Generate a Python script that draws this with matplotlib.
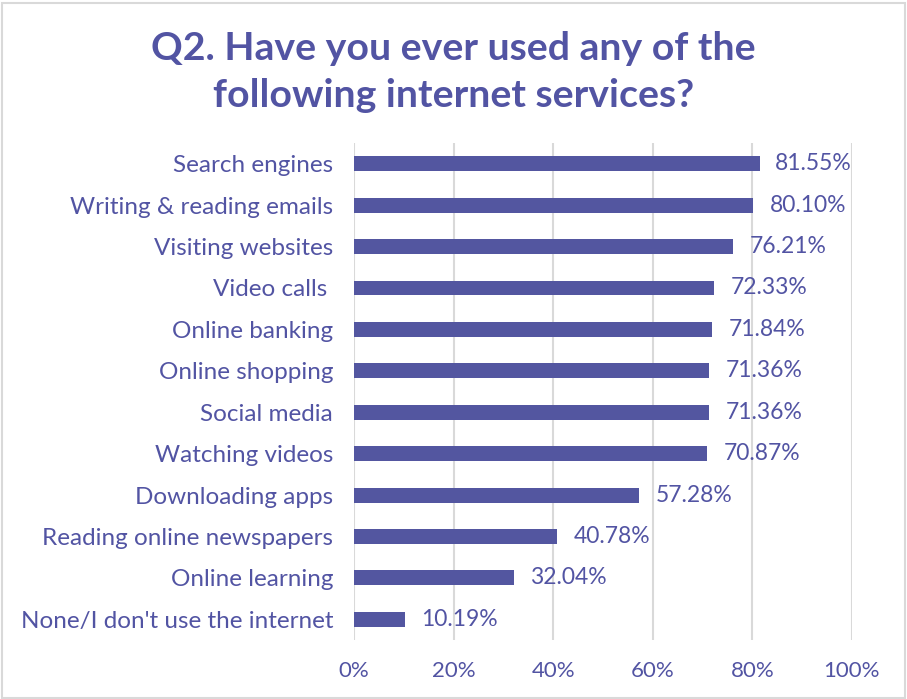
import matplotlib.pyplot as plt
from matplotlib.patches import Rectangle
from matplotlib.ticker import FuncFormatter

services = [
    "Search engines",
    "Writing & reading emails",
    "Visiting websites",
    "Video calls ",
    "Online banking",
    "Online shopping",
    "Social media",
    "Watching videos",
    "Downloading apps",
    "Reading online newspapers",
    "Online learning",
    "None/I don't use the internet",
]
share = [81.55, 80.10, 76.21, 72.33, 71.84, 71.36, 71.36, 70.87, 57.28, 40.78, 32.04, 10.19]
xticks = [0, 20, 40, 60, 80, 100]

ink = "#5254A3"
bar_color = "#5356A0"

plt.rcParams["font.family"] = ["Lato", "DejaVu Sans"]

fig = plt.figure(figsize=(9.07, 6.99), dpi=100)
ax = fig.add_axes([0.3903, 0.0844, 0.549, 0.711])

pos = list(range(len(services)))
ax.barh(pos, share, height=0.36, color=bar_color, zorder=3)

ax.set_xlim(0, 100)
ax.set_ylim(len(services) - 0.5, -0.5)
ax.set_yticks(pos)
ax.set_yticklabels(services, fontsize=17.5, color=ink)
ax.set_xticks(xticks)
ax.xaxis.set_major_formatter(FuncFormatter(lambda x, p: f"{int(x)}%"))
ax.tick_params(axis="x", labelsize=16, labelcolor=ink, length=0, pad=15)
ax.tick_params(axis="y", length=0, pad=15)
ax.grid(axis="x", color="#D9D9D9", linewidth=1.5, zorder=0)
for s in ax.spines.values():
    s.set_visible(False)

# value labels sit just past the bar end, but are kept inside the plot area
labels = []
for y, v in zip(pos, share):
    t = ax.annotate(f"{v:.2f}%", (v, y), xytext=(12, 0), textcoords="offset points",
                    va="center", ha="left", color=ink, fontsize=16.5, zorder=4)
    labels.append(t)

fig.canvas.draw()
renderer = fig.canvas.get_renderer()
right_px = ax.transAxes.transform((1, 0))[0]
for t in labels:
    bb = t.get_window_extent(renderer)
    if bb.x1 > right_px:
        shift = (bb.x1 - right_px) * 72 / fig.dpi
        t.xyann = (t.xyann[0] - shift, 0)

fig.text(0.5, 0.897, "Q2. Have you ever used any of the\nfollowing internet services?",
         ha="center", va="center", fontsize=28.3, fontweight="bold",
         color=ink, linespacing=1.38)

fig.patches.append(Rectangle((0.002, 0.002), 0.996, 0.993, transform=fig.transFigure,
                             fill=False, edgecolor="#D9D9D9", linewidth=1.5))

fig.savefig("out.png", dpi=100)
